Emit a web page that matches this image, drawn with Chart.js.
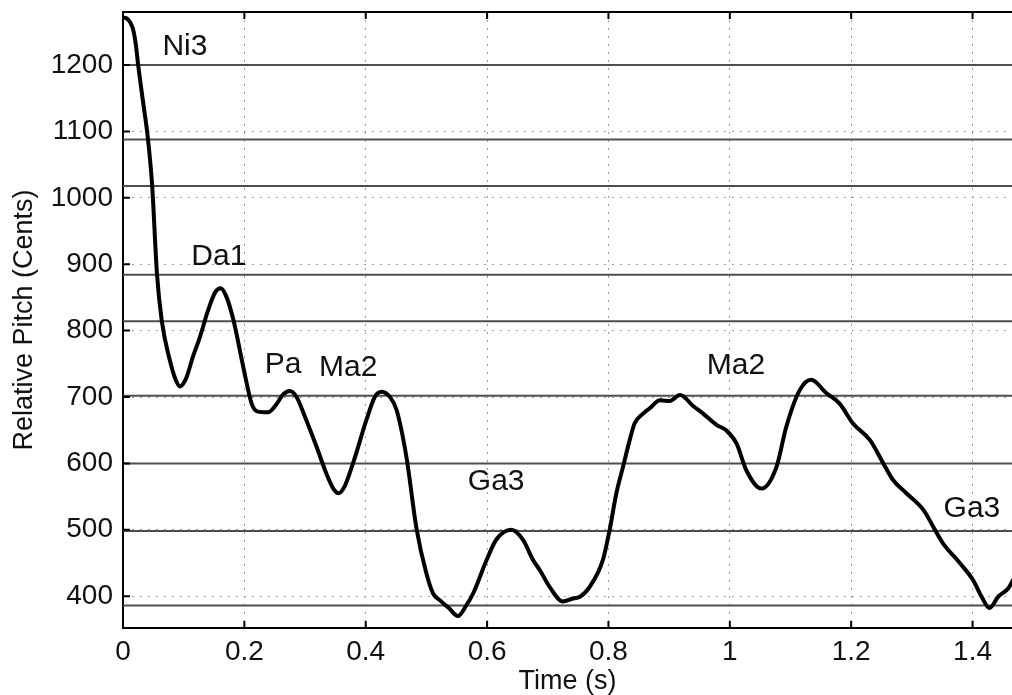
<!DOCTYPE html>
<html>
<head>
<meta charset="utf-8">
<script src="https://cdn.jsdelivr.net/npm/chart.js@4.4.1/dist/chart.umd.min.js"></script>
<style>
    html, body { margin: 0; padding: 0; background: #ffffff; }
    #chart_box { width: 1012px; height: 695px; }
</style>
</head>
<body>
<div id="chart_box"><canvas id="pitch_chart"></canvas></div>
<script>
// pitch contour, time in seconds and pitch in cents
var timeValues = [0.000, 0.008, 0.016, 0.021, 0.025, 0.033, 0.041, 0.048, 0.056, 0.064,
    0.077, 0.086, 0.094, 0.104, 0.115, 0.127, 0.140, 0.152, 0.161, 0.170,
    0.182, 0.198, 0.212, 0.222, 0.239, 0.252, 0.264, 0.275, 0.286, 0.300,
    0.319, 0.335, 0.348, 0.355, 0.365, 0.379, 0.401, 0.415, 0.426, 0.440,
    0.451, 0.467, 0.484, 0.500, 0.511, 0.522, 0.537, 0.552, 0.565, 0.577,
    0.599, 0.615, 0.640, 0.659, 0.676, 0.687, 0.703, 0.725, 0.740, 0.753,
    0.769, 0.791, 0.802, 0.813, 0.824, 0.835, 0.843, 0.857, 0.868, 0.885,
    0.901, 0.918, 0.940, 0.956, 0.978, 0.994, 1.011, 1.027, 1.052, 1.077,
    1.093, 1.115, 1.134, 1.159, 1.181, 1.203, 1.231, 1.253, 1.269, 1.291,
    1.319, 1.335, 1.351, 1.379, 1.401, 1.415, 1.428, 1.442, 1.459, 1.470];
var centValues = [1272, 1269, 1256, 1232, 1200, 1145, 1090, 1019, 885, 814,
    756, 728, 716, 728, 760, 791, 830, 858, 864, 852,
    816, 746, 690, 678, 677, 688, 704, 709, 700, 670,
    625, 585, 560, 555, 565, 600, 665, 700, 708, 700,
    680, 610, 500, 434, 404, 394, 382, 370, 385, 404,
    454, 485, 500, 485, 454, 439, 414, 392, 396, 399,
    414, 455, 500, 555, 595, 635, 660, 675, 683, 695,
    694, 703, 686, 675, 658, 650, 630, 590, 562, 595,
    655, 710, 726, 706, 690, 660, 635, 600, 575, 555,
    530, 505, 480, 450, 424, 399, 382, 399, 412, 430];

// svara reference lines (cents)
var svaraLines = [1200, 1088, 1018, 884, 814, 702, 600, 498, 386];

// note labels written on the plot
var noteNames = ["Ni3", "Da1", "Pa", "Ma2", "Ga3", "Ma2", "Ga3"];
var noteTimes = [0.102, 0.158, 0.264, 0.371, 0.615, 1.010, 1.399];
var noteCents = [1227, 912, 748, 744, 572, 747, 531];

// axes
var xMin = 0, xMax = 1.465, xStep = 0.2;
var yMin = 352, yMax = 1280, yStep = 100;

var fontName = "'Liberation Sans', Arial, Helvetica, sans-serif";

var onStep = function (value, step) {
    let r = value / step;
    return Math.abs(r - Math.round(r)) < 1e-6;
}

var pitchPoints = [];
for (let i = 0; i < timeValues.length; i++) {
    pitchPoints.push({x: timeValues[i], y: centValues[i]});
}

var datasets = [];
for (let i = 0; i < svaraLines.length; i++) {
    datasets.push({
        label: "line " + svaraLines[i],
        data: [{x: xMin, y: svaraLines[i]}, {x: 1.6, y: svaraLines[i]}],
        borderColor: "#4e4e4e",
        borderWidth: 2,
        pointRadius: 0,
        showLine: true,
        order: 2
    });
}
datasets.push({
    label: "pitch",
    data: pitchPoints,
    borderColor: "#000000",
    borderWidth: 4,
    pointRadius: 0,
    showLine: true,
    cubicInterpolationMode: "monotone",
    order: 1
});

// frame on top + inward tick marks + note names
var framePlugin = {
    id: "framePlugin",
    afterDatasetsDraw: function (chart) {
        let ctx = chart.ctx;
        let area = chart.chartArea;
        let xs = chart.scales.x;
        let ys = chart.scales.y;
        ctx.save();
        ctx.strokeStyle = "#000000";
        ctx.lineWidth = 2;
        ctx.beginPath();
        ctx.moveTo(area.left - 1, area.top);
        ctx.lineTo(area.right, area.top);
        ctx.stroke();
        ctx.beginPath();
        for (let i = 0; i < xs.ticks.length; i++) {
            let px = xs.getPixelForValue(xs.ticks[i].value);
            ctx.moveTo(px, area.bottom);
            ctx.lineTo(px, area.bottom - 7);
            ctx.moveTo(px, area.top);
            ctx.lineTo(px, area.top + 7);
        }
        for (let i = 0; i < ys.ticks.length; i++) {
            let py = ys.getPixelForValue(ys.ticks[i].value);
            ctx.moveTo(area.left, py);
            ctx.lineTo(area.left + 7, py);
        }
        ctx.stroke();

        ctx.fillStyle = "#111111";
        ctx.font = "30px " + fontName;
        ctx.textAlign = "center";
        ctx.textBaseline = "middle";
        for (let i = 0; i < noteNames.length; i++) {
            ctx.fillText(noteNames[i], xs.getPixelForValue(noteTimes[i]), ys.getPixelForValue(noteCents[i]));
        }
        ctx.restore();
    }
};

Chart.defaults.font.family = fontName;
Chart.defaults.color = "#111111";

var pitchChart = new Chart("pitch_chart", {
    type: "scatter",
    data: {datasets: datasets},
    plugins: [framePlugin],
    options: {
        responsive: true,
        maintainAspectRatio: false,
        animation: false,
        layout: {padding: {top: 12, right: 0, left: 0, bottom: 0}},
        plugins: {
            legend: {display: false},
            tooltip: {enabled: false}
        },
        scales: {
            x: {
                type: "linear",
                min: xMin,
                max: xMax,
                afterBuildTicks: function (scale) {
                    scale.ticks = scale.ticks.filter(t => onStep(t.value, xStep));
                },
                afterFit: function (scale) {
                    scale.height = 67;
                    scale.paddingLeft = 0;
                    scale.paddingRight = 0;
                },
                ticks: {
                    stepSize: xStep,
                    includeBounds: false,
                    padding: 7,
                    maxRotation: 0,
                    font: {size: 28},
                    color: "#111111",
                    callback: function (v) { return String(Math.round(v * 10) / 10); }
                },
                grid: {color: "#9a9a9a", lineWidth: 1, drawTicks: false},
                border: {color: "#000000", width: 2, dash: [2, 6]},
                title: {display: true, text: "Time (s)", font: {size: 27}, color: "#111111", padding: {top: 0, bottom: -3}}
            },
            y: {
                type: "linear",
                min: yMin,
                max: yMax,
                afterBuildTicks: function (scale) {
                    scale.ticks = scale.ticks.filter(t => onStep(t.value, yStep));
                },
                afterFit: function (scale) {
                    scale.width = 123;
                    scale.paddingTop = 0;
                    scale.paddingBottom = 0;
                },
                ticks: {
                    stepSize: yStep,
                    includeBounds: false,
                    padding: 10,
                    font: {size: 28},
                    color: "#111111",
                    callback: function (v) { return String(Math.round(v)); }
                },
                grid: {color: "#9a9a9a", lineWidth: 1, drawTicks: false},
                border: {color: "#000000", width: 2, dash: [2, 6]},
                title: {display: true, text: "Relative Pitch (Cents)", font: {size: 27}, color: "#111111", padding: {top: 8, bottom: 0}}
            }
        }
    }
});
</script>
</body>
</html>
